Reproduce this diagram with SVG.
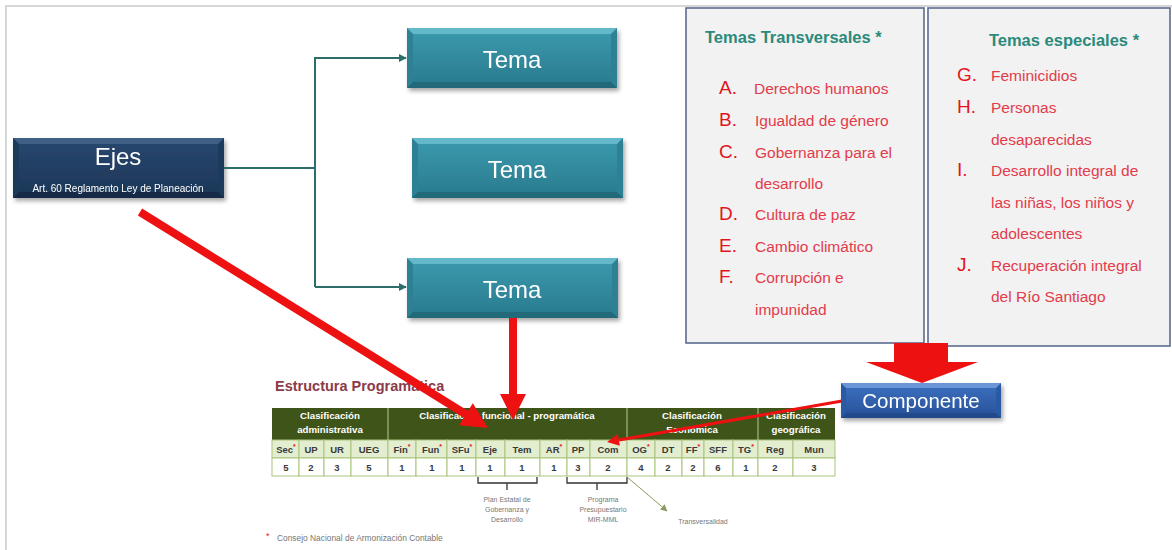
<svg xmlns="http://www.w3.org/2000/svg" width="1172" height="550" viewBox="0 0 1172 550">
<defs>
<style>
text{font-family:"Liberation Sans",Arial,sans-serif}
.frame{fill:none;stroke:#d6d6d6;stroke-width:2}
.panel{fill:#f2f2f2;stroke:#5b6c8f;stroke-width:1.6}
.title{font-size:16.5px;font-weight:bold;fill:#2b8a7b}
.let{font-size:19px;fill:#e3141f}
.itm{font-size:15.5px;fill:#e33b4a}
.big{font-size:24px;fill:#fff;text-anchor:middle}
.teal{fill:none;stroke:#2d6e6b;stroke-width:2}
.red{fill:#ee1111;stroke:none}
.redl{stroke:#ee1111;fill:none}
.hdr{fill:#3f5419}
.hdrt{font-size:9.7px;font-weight:bold;fill:#fff;text-anchor:middle}
.code{fill:#e3edd0;stroke:#a9c47c;stroke-width:1}
.val{fill:#fff;stroke:#a9c47c;stroke-width:1}
.ct{font-size:9.5px;font-weight:bold;fill:#3a3a3a;text-anchor:middle}
.ast{fill:#e02020;font-size:7px}
.note{font-size:7px;fill:#777;text-anchor:middle}
.brk{fill:none;stroke:#333;stroke-width:1.3}
</style>
<linearGradient id="gTema" x1="0" y1="0" x2="0" y2="1"><stop offset="0" stop-color="#3a97ab"/><stop offset="1" stop-color="#2b7d90"/></linearGradient>
<linearGradient id="gEjes" x1="0" y1="0" x2="0" y2="1"><stop offset="0" stop-color="#27466d"/><stop offset="1" stop-color="#1d3858"/></linearGradient>
<linearGradient id="gComp" x1="0" y1="0" x2="0" y2="1"><stop offset="0" stop-color="#3a6cba"/><stop offset="1" stop-color="#2a559e"/></linearGradient>
<filter id="sh" x="-10%" y="-20%" width="125%" height="150%"><feDropShadow dx="2" dy="3" stdDeviation="2" flood-opacity="0.35"/></filter>
<marker id="ta" viewBox="0 0 10 10" refX="9" refY="5" markerWidth="8" markerHeight="8" markerUnits="userSpaceOnUse" orient="auto"><path d="M0,0 L10,5 L0,10 z" fill="#2d6e6b"/></marker>
<marker id="ga" viewBox="0 0 10 10" refX="9" refY="5" markerWidth="7" markerHeight="7" markerUnits="userSpaceOnUse" orient="auto"><path d="M0,0 L10,5 L0,10 z" fill="#8a9a5b"/></marker>
</defs>
<rect width="1172" height="550" fill="#fff"/>
<path class="frame" d="M6,552 V6 H1174"/>

<g id="panel-transversales">
<rect class="panel" x="686" y="8" width="238" height="335"/>
<text class="title" x="705" y="43">Temas Transversales *</text>
<text class="let" x="719" y="94">A.</text><text class="itm" x="754" y="94">Derechos humanos</text>
<text class="let" x="719" y="126">B.</text><text class="itm" x="755" y="126">Igualdad de género</text>
<text class="let" x="719" y="158">C.</text><text class="itm" x="755" y="158">Gobernanza para el</text>
<text class="itm" x="755" y="189">desarrollo</text>
<text class="let" x="719" y="220">D.</text><text class="itm" x="755" y="220">Cultura de paz</text>
<text class="let" x="719" y="252">E.</text><text class="itm" x="755" y="252">Cambio climático</text>
<text class="let" x="719" y="283">F.</text><text class="itm" x="755" y="283">Corrupción e</text>
<text class="itm" x="755" y="315">impunidad</text>
</g>

<g id="panel-especiales">
<rect class="panel" x="928" y="8" width="242" height="338"/>
<text class="title" x="1064" y="46" text-anchor="middle">Temas especiales *</text>
<text class="let" x="957" y="81">G.</text><text class="itm" x="991" y="81">Feminicidios</text>
<text class="let" x="957" y="113">H.</text><text class="itm" x="991" y="113">Personas</text>
<text class="itm" x="991" y="145">desaparecidas</text>
<text class="let" x="957" y="176">I.</text><text class="itm" x="991" y="176">Desarrollo integral de</text>
<text class="itm" x="991" y="208">las niñas, los niños y</text>
<text class="itm" x="991" y="239">adolescentes</text>
<text class="let" x="957" y="271">J.</text><text class="itm" x="991" y="271">Recuperación integral</text>
<text class="itm" x="991" y="302">del Río Santiago</text>
</g>

<g id="estructura">
<text x="275" y="391" font-size="14.5" font-weight="bold" fill="#8b3a4a">Estructura Programática</text>
<rect class="hdr" x="272" y="408" width="563" height="32"/>
<g stroke="#b9c99a" stroke-width="1"><line x1="388" y1="408" x2="388" y2="440"/><line x1="627" y1="408" x2="627" y2="440"/><line x1="758" y1="408" x2="758" y2="440"/></g>
<text class="hdrt" x="330" y="419">Clasificación</text><text class="hdrt" x="330" y="433">administrativa</text>
<text class="hdrt" x="507" y="419">Clasificación funcional - programática</text>
<text class="hdrt" x="692" y="419">Clasificación</text><text class="hdrt" x="692" y="433">Económica</text>
<text class="hdrt" x="796" y="419">Clasificación</text><text class="hdrt" x="796" y="433">geográfica</text>
<g>
<rect class="code" x="272" y="440" width="27" height="18"/><rect class="code" x="299" y="440" width="25" height="18"/><rect class="code" x="324" y="440" width="27" height="18"/><rect class="code" x="351" y="440" width="37" height="18"/><rect class="code" x="388" y="440" width="28" height="18"/><rect class="code" x="416" y="440" width="31" height="18"/><rect class="code" x="447" y="440" width="29" height="18"/><rect class="code" x="476" y="440" width="29" height="18"/><rect class="code" x="505" y="440" width="35" height="18"/><rect class="code" x="540" y="440" width="27" height="18"/><rect class="code" x="567" y="440" width="23" height="18"/><rect class="code" x="590" y="440" width="37" height="18"/><rect class="code" x="627" y="440" width="28" height="18"/><rect class="code" x="655" y="440" width="27" height="18"/><rect class="code" x="682" y="440" width="22" height="18"/><rect class="code" x="704" y="440" width="29" height="18"/><rect class="code" x="733" y="440" width="25" height="18"/><rect class="code" x="758" y="440" width="35" height="18"/><rect class="code" x="793" y="440" width="42" height="18"/>
<rect class="val" x="272" y="458" width="27" height="18"/><rect class="val" x="299" y="458" width="25" height="18"/><rect class="val" x="324" y="458" width="27" height="18"/><rect class="val" x="351" y="458" width="37" height="18"/><rect class="val" x="388" y="458" width="28" height="18"/><rect class="val" x="416" y="458" width="31" height="18"/><rect class="val" x="447" y="458" width="29" height="18"/><rect class="val" x="476" y="458" width="29" height="18"/><rect class="val" x="505" y="458" width="35" height="18"/><rect class="val" x="540" y="458" width="27" height="18"/><rect class="val" x="567" y="458" width="23" height="18"/><rect class="val" x="590" y="458" width="37" height="18"/><rect class="val" x="627" y="458" width="28" height="18"/><rect class="val" x="655" y="458" width="27" height="18"/><rect class="val" x="682" y="458" width="22" height="18"/><rect class="val" x="704" y="458" width="29" height="18"/><rect class="val" x="733" y="458" width="25" height="18"/><rect class="val" x="758" y="458" width="35" height="18"/><rect class="val" x="793" y="458" width="42" height="18"/>
</g>
<g>
<text class="ct" x="286" y="453">Sec<tspan class="ast" dy="-4">*</tspan></text>
<text class="ct" x="311" y="453">UP</text>
<text class="ct" x="337" y="453">UR</text>
<text class="ct" x="369" y="453">UEG</text>
<text class="ct" x="402" y="453">Fin<tspan class="ast" dy="-4">*</tspan></text>
<text class="ct" x="432" y="453">Fun<tspan class="ast" dy="-4">*</tspan></text>
<text class="ct" x="462" y="453">SFu<tspan class="ast" dy="-4">*</tspan></text>
<text class="ct" x="490" y="453">Eje</text>
<text class="ct" x="522" y="453">Tem</text>
<text class="ct" x="554" y="453">AR<tspan class="ast" dy="-4">*</tspan></text>
<text class="ct" x="578" y="453">PP</text>
<text class="ct" x="608" y="453">Com</text>
<text class="ct" x="641" y="453">OG<tspan class="ast" dy="-4">*</tspan></text>
<text class="ct" x="668" y="453">DT</text>
<text class="ct" x="693" y="453">FF<tspan class="ast" dy="-4">*</tspan></text>
<text class="ct" x="718" y="453">SFF</text>
<text class="ct" x="746" y="453">TG<tspan class="ast" dy="-4">*</tspan></text>
<text class="ct" x="775" y="453">Reg</text>
<text class="ct" x="814" y="453">Mun</text>
<text class="ct" x="286" y="471">5</text><text class="ct" x="311" y="471">2</text><text class="ct" x="337" y="471">3</text><text class="ct" x="369" y="471">5</text><text class="ct" x="402" y="471">1</text><text class="ct" x="432" y="471">1</text><text class="ct" x="462" y="471">1</text><text class="ct" x="490" y="471">1</text><text class="ct" x="522" y="471">1</text><text class="ct" x="554" y="471">1</text><text class="ct" x="578" y="471">3</text><text class="ct" x="608" y="471">2</text><text class="ct" x="641" y="471">4</text><text class="ct" x="668" y="471">2</text><text class="ct" x="693" y="471">2</text><text class="ct" x="718" y="471">6</text><text class="ct" x="746" y="471">1</text><text class="ct" x="775" y="471">2</text><text class="ct" x="814" y="471">3</text>
</g>
<path class="brk" d="M478,477 V483 H537 V477 M507,483 V490"/>
<path class="brk" d="M567,477 V483 H627 V477 M597,483 V490"/>
<text class="note" x="507" y="502">Plan Estatal de</text><text class="note" x="507" y="512">Gobernanza y</text><text class="note" x="507" y="522">Desarrollo</text>
<text class="note" x="603" y="502">Programa</text><text class="note" x="603" y="512">Presupuestario</text><text class="note" x="603" y="522">MIR-MML</text>
<text class="note" x="703" y="524" font-size="7.5">Transversalidad</text>
<text x="266" y="539" font-size="9" fill="#e02020">*</text>
<text x="277" y="541" font-size="8.4" fill="#777">Consejo Nacional de Armonización Contable</text>
</g>

<g id="ejes" filter="url(#sh)">
<rect x="13" y="138" width="211" height="60" fill="#1f3b5c"/>
<polygon points="13,138 224,138 218,144 19,144" fill="#3f5f85"/>
<polygon points="13,198 224,198 218,192 19,192" fill="#162b47"/>
<rect x="19" y="144" width="199" height="48" fill="url(#gEjes)"/>
<text class="big" x="118" y="165" font-size="25">Ejes</text>
<text x="118" y="192" font-size="10" fill="#fff" text-anchor="middle">Art. 60 Reglamento Ley de Planeación</text>
</g>

<g id="tema1" filter="url(#sh)">
<rect x="407" y="28" width="210" height="60" fill="#2d8194"/>
<polygon points="407,28 617,28 611,34 413,34" fill="#63b8c9"/>
<polygon points="407,88 617,88 611,82 413,82" fill="#23697a"/>
<rect x="413" y="34" width="198" height="48" fill="url(#gTema)"/>
<text class="big" x="512" y="68">Tema</text>
</g>

<g id="tema2" filter="url(#sh)">
<rect x="412" y="138" width="211" height="60" fill="#2d8194"/>
<polygon points="412,138 623,138 617,144 418,144" fill="#63b8c9"/>
<polygon points="412,198 623,198 617,192 418,192" fill="#23697a"/>
<rect x="418" y="144" width="199" height="48" fill="url(#gTema)"/>
<text class="big" x="517" y="178">Tema</text>
</g>

<g id="tema3" filter="url(#sh)">
<rect x="407" y="258" width="211" height="60" fill="#2d8194"/>
<polygon points="407,258 618,258 612,264 413,264" fill="#63b8c9"/>
<polygon points="407,318 618,318 612,312 413,312" fill="#23697a"/>
<rect x="413" y="264" width="199" height="48" fill="url(#gTema)"/>
<text class="big" x="512" y="298">Tema</text>
</g>

<g id="connectors">
<path class="teal" d="M224,168 H315"/>
<path class="teal" d="M315,287 V58 H406" marker-end="url(#ta)"/>
<path class="teal" d="M315,287 H406" marker-end="url(#ta)"/>
<line class="redl" x1="140" y1="212" x2="467" y2="415" stroke-width="8"/>
<polygon class="red" points="459,425.3 472.8,403.3 488,428"/>
<line class="redl" x1="513" y1="318" x2="513" y2="396" stroke-width="8"/>
<polygon class="red" points="500,394 526,394 513,420"/>
<line class="redl" x1="842" y1="401" x2="619" y2="440" stroke-width="3"/>
<polygon class="red" points="617.8,434 619.8,445.8 607,442"/>
<polygon class="red" points="894,343 948,343 948,362 978,362 922,383 866,362 894,362"/>
<line x1="627" y1="477" x2="667" y2="511" stroke="#8a9a5b" stroke-width="1" marker-end="url(#ga)"/>
</g>

<g id="componente" filter="url(#sh)">
<rect x="841" y="383" width="160" height="35" fill="#2c5aa3"/>
<polygon points="841,383 1001,383 996,388 846,388" fill="#6b95d6"/>
<polygon points="841,418 1001,418 996,413 846,413" fill="#214a8a"/>
<rect x="846" y="388" width="150" height="25" fill="url(#gComp)"/>
<text x="921" y="408" font-size="20.5" fill="#fff" text-anchor="middle">Componente</text>
</g>
</svg>
